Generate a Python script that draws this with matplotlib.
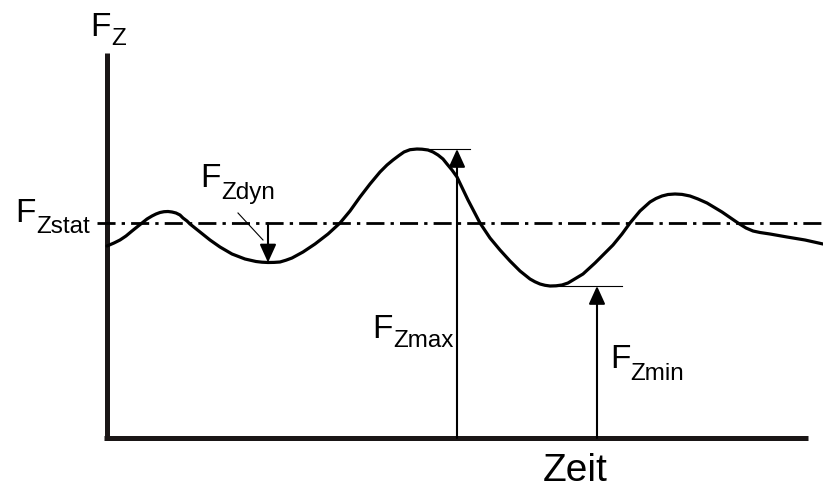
import matplotlib
matplotlib.use("Agg")
import matplotlib.pyplot as plt

plt.rcParams['font.family'] = ['Liberation Sans', 'DejaVu Sans']

# time (x) and force (F), baseline at F = 0
zeit = [107, 114, 120, 126, 132, 137, 142, 147, 152, 156, 160, 164, 168, 172, 176, 180, 183, 187,
        190, 195, 200, 210, 220, 232, 245, 256, 262, 268, 274, 280, 286, 292, 303, 315, 328,
        340, 350, 360, 370, 380, 387, 393, 399, 404, 410, 417, 422, 428, 433, 438, 443, 447,
        452, 457, 468, 480, 490, 500, 510, 520, 530, 535, 540, 545, 550, 556, 562, 568, 573,
        583, 595, 600, 613, 622, 630, 640, 650, 656, 662, 668, 675, 682, 690, 698, 707,
        722, 738, 746, 753, 760, 770, 787, 805, 823]
kraft = [192, 195, 198, 202, 207, 211, 215, 219, 222, 224, 225.5, 226.3, 226.5, 226, 225, 223, 220, 217,
         214, 210, 206, 198, 191, 184, 179, 176.5, 175.8, 175.5, 175.6, 176, 177.8, 180, 186, 194, 204,
         215, 227, 241, 254, 266, 273, 278, 282.5, 286, 288.3, 289, 288.8, 288, 286, 283, 279, 274,
         268, 261, 238, 215, 200, 188, 177, 167, 159, 156.2, 154, 152.7, 152, 152.2, 153, 155, 158,
         164, 175, 180, 193, 204, 215, 227, 236, 239.5, 242, 243.5, 244, 243.6, 242, 239, 235,
         226, 215, 210, 207, 205.5, 204, 201, 198, 194]

f_stat = 215
f_max = 289
f_min = 152
t_max, t_min, t_dyn = 457, 597, 268
f_dyn_low = 175.5

fig = plt.figure(figsize=(8.23, 4.91), dpi=100)
ax = fig.add_axes([0, 0, 1, 1])
ax.set_xlim(0, 823)
ax.set_ylim(438 - 491, 438)
ax.axis('off')

# axes
ax.plot([107, 107], [-2, 385], color='#1a1616', lw=3.6, solid_capstyle='butt')
ax.plot([104, 808], [0, 0], color='#1a1616', lw=3.6, solid_capstyle='butt')

# static level
ax.plot([97, 823], [f_stat, f_stat], color='k', lw=2.0, dashes=(6.5, 2.2, 1.2, 2.2),
        dash_capstyle='butt')

# force curve
ax.plot(zeit, kraft, color='k', lw=2.3, solid_joinstyle='round', solid_capstyle='round')

# max / min markers
ax.plot([417, 470], [f_max, f_max], color='k', lw=0.8)
ax.plot([550, 622], [f_min, f_min], color='k', lw=0.8)

arr = dict(arrowstyle='-|>,head_length=0.55,head_width=0.25', color='k', lw=1.5,
           shrinkA=0, shrinkB=0, mutation_scale=20)
ax.annotate('', xy=(t_max, f_max), xytext=(t_max, 0), arrowprops=arr)
ax.annotate('', xy=(t_min, f_min), xytext=(t_min, 0), arrowprops=arr)
ax.annotate('', xy=(t_dyn, f_dyn_low), xytext=(t_dyn, f_stat), arrowprops=arr)

# leader line for F_Zdyn
ax.plot([238, 263], [438 - 213, 438 - 240], color='k', lw=0.8)


def label(x, y, sub, drop=10, size=24, subsize=17.5):
    ax.text(x, 438 - y, 'F', fontsize=size, ha='left', va='baseline')
    ax.text(x + 0.611 * size * 100 / 72, 438 - y - drop, sub, fontsize=subsize,
            ha='left', va='baseline')


label(90.5, 36, 'Z', drop=9)
label(15.5, 222, 'Zstat', drop=11)
label(200.5, 187, 'Zdyn', drop=12)
label(372.5, 338, 'Zmax', drop=9)
label(610, 368, 'Zmin', drop=12)

ax.text(575, 438 - 481, 'Zeit', fontsize=28, ha='center', va='baseline')

fig.savefig('out.png', dpi=100)
